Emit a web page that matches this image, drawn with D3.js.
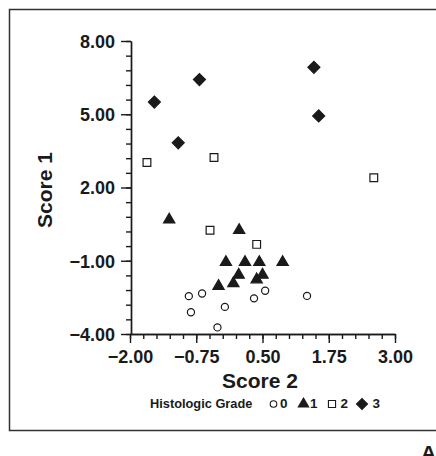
<!DOCTYPE html>
<html><head><meta charset="utf-8">
<script src="https://cdn.jsdelivr.net/npm/d3@7"></script>
<style>
html,body{margin:0;padding:0;background:#fff;}
svg{display:block;font-family:"Liberation Sans",Arial,Helvetica,sans-serif;}
</style></head><body>
<svg id="c" width="436" height="456"></svg>
<script>
// Data (Score 2 = x, Score 1 = y)
const grade0 = [[-0.89,-2.45],[-0.64,-2.34],[-0.85,-3.11],[-0.21,-2.89],[-0.35,-3.73],[0.34,-2.54],[0.55,-2.23],[1.34,-2.44]];
const grade1 = [[-1.26,0.68],[0.06,0.25],[-0.19,-1.06],[0.17,-1.06],[0.44,-1.06],[0.88,-1.06],[0.05,-1.58],[0.50,-1.58],[0.39,-1.77],[-0.05,-1.93],[-0.33,-2.04]];
const grade2 = [[-1.68,3.02],[-0.415,3.23],[2.60,2.40],[-0.49,0.25],[0.39,-0.33]];
const grade3 = [[-1.54,5.5],[-0.69,6.42],[-1.09,3.83],[1.47,6.92],[1.56,4.93]];
const xTicks = [-2,-0.75,0.5,1.75,3];
const xTickLabels = ["\u22122.00","\u22120.75","0.50","1.75","3.00"];
const yTicks = [-4,-1,2,5,8];
const yTickLabels = ["\u22124.00","\u22121.00","2.00","5.00","8.00"];
const legendLabels = ["0","1","2","3"];

const svg = d3.select("#c");
const ink = "#1a1a1a";

// frame
svg.append("rect").attr("x",9.5).attr("y",9.5).attr("width",440).attr("height",421)
  .attr("fill","none").attr("stroke","#333").attr("stroke-width",1.5);

const x = d3.scaleLinear().domain([-2,3]).range([130,395]);
const y = d3.scaleLinear().domain([-4,8]).range([334,41]);

const xMinor = d3.range(-2,3.0001,0.25);
const yMinor = d3.range(-4,8.0001,0.6);

// x axis
const gx = svg.append("g").attr("transform","translate(0,334)");
gx.call(d3.axisBottom(x).tickValues(xMinor).tickSize(5).tickFormat("").tickSizeOuter(0));
gx.call(g=>g.append("g").call(d3.axisBottom(x).tickValues(xTicks).tickSize(9).tickSizeOuter(0)
   .tickFormat((d,i)=>xTickLabels[i])));
gx.selectAll("path,line").attr("stroke",ink).attr("stroke-width",1.4);
gx.selectAll("text").attr("fill",ink).attr("font-size","18px").attr("font-weight","bold")
  .attr("font-family","'Liberation Sans',Arial,sans-serif").attr("dy",null).attr("y",28.5);

// y axis
const gy = svg.append("g").attr("transform","translate(131,0)");
gy.call(d3.axisLeft(y).tickValues(yMinor).tickSize(5).tickFormat("").tickSizeOuter(0));
gy.call(g=>g.append("g").call(d3.axisLeft(y).tickValues(yTicks).tickSize(10).tickSizeOuter(0)
   .tickFormat((d,i)=>yTickLabels[i])));
gy.selectAll("path,line").attr("stroke",ink).attr("stroke-width",1.4);
gy.selectAll("text").attr("fill",ink).attr("font-size","18px").attr("font-weight","bold")
  .attr("font-family","'Liberation Sans',Arial,sans-serif").attr("x",-16).attr("dy","0.36em");

// axis titles
svg.append("text").attr("x",260).attr("y",388).attr("text-anchor","middle")
  .attr("font-size","21px").attr("font-weight","bold").attr("fill",ink).text("Score 2");
svg.append("text").attr("transform","translate(52,190) rotate(-90)").attr("text-anchor","middle")
  .attr("font-size","21px").attr("font-weight","bold").attr("fill",ink).text("Score 1");

// markers
const sym = {
  0:{type:d3.symbolCircle,size:40,fill:"#fff",rot:0},
  1:{type:d3.symbolTriangle,size:55,fill:ink,rot:0},
  2:{type:d3.symbolSquare,size:60,fill:"#fff",rot:0},
  3:{type:d3.symbolSquare,size:72,fill:ink,rot:45}
};
const groups = [grade0,grade1,grade2,grade3];
groups.forEach((data,gi)=>{
  const s = sym[gi];
  svg.append("g").selectAll("path").data(data).join("path")
    .attr("transform",d=>`translate(${x(d[0])},${y(d[1])}) rotate(${s.rot})`)
    .attr("d",d3.symbol().type(s.type).size(s.size))
    .attr("fill",s.fill).attr("stroke",ink).attr("stroke-width",1.2);
});

// legend
svg.append("text").attr("x",150).attr("y",408).attr("font-size","12.8px").attr("font-weight","bold")
  .attr("fill",ink).text("Histologic Grade");
const legX = [273.5,303.5,332,362];
const legTX = [280,310,340.5,372.5];
legendLabels.forEach((lab,i)=>{
  const s = sym[i];
  svg.append("path").attr("transform",`translate(${legX[i]},404) rotate(${s.rot})`)
    .attr("d",d3.symbol().type(s.type).size(s.size*0.85))
    .attr("fill",s.fill).attr("stroke",ink).attr("stroke-width",1.1);
  svg.append("text").attr("x",legTX[i]).attr("y",408).attr("font-size","13.5px").attr("font-weight","bold")
    .attr("fill",ink).text(lab);
});

// panel letter
svg.append("text").attr("x",421).attr("y",460).attr("font-size","21px").attr("font-weight","bold")
  .attr("fill",ink).text("A");
</script>
</body></html>
